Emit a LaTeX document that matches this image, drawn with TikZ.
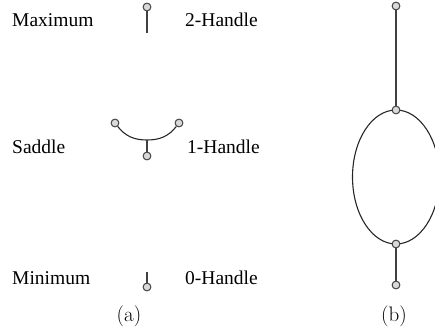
\documentclass[tikz,border=0pt]{standalone}
\usepackage{fontspec}
\newfontfamily\tnr{Liberation Serif}
\begin{document}
\begin{tikzpicture}[x=1pt,y=-1pt,
  endpt/.style={circle,draw=black!75,fill=black!15,line width=1pt,minimum size=7.8pt,inner sep=0pt},
  stem/.style={draw=black!75,line width=1.3pt},
  curve/.style={draw=black!85,line width=1.1pt},
  lbl/.style={anchor=base west,inner sep=0pt,font=\tnr\fontsize{19.5}{22}\selectfont},
  captext/.style={anchor=base,inner sep=0pt,font=\fontsize{21}{24}\selectfont}]
\useasboundingbox (0,0) rectangle (435,331);
\clip (0,0) rectangle (435,331);
% (b) ellipse first
\coordinate (ec) at (396,177);
\draw[curve] (ec) ellipse [x radius=43.5, y radius=67];
% (a) labels
\node[lbl] (tmax) at (12,27) {Maximum};
\node[lbl] (hmax) at (185,27) {2-Handle};
\node[lbl] (tsad) at (12,153) {Saddle};
\node[lbl] (hsad) at (187,153) {1-Handle};
\node[lbl] (tmin) at (12,284) {Minimum};
\node[lbl] (hmin) at (185,284) {0-Handle};
\node[captext] (capa) at (129,321) {(a)};
\node[captext] (capb) at (394,321) {(b)};
% maximum
\node[endpt] (m1) at (147,7) {};
\coordinate (m2) at (147,33);
\draw[stem] (m1) -- (m2);
% saddle
\node[endpt] (sl) at (115,123) {};
\node[endpt] (sr) at (179,123) {};
\coordinate (sb) at (147,140);
\node[endpt] (sd) at (147,156) {};
\draw[curve] (sl) to[out=-52,in=180] (sb) to[out=0,in=232] (sr);
\draw[stem] (sb) -- (sd);
% minimum
\coordinate (n1) at (147,272);
\node[endpt] (n2) at (147,287) {};
\draw[stem] (n1) -- (n2);
% (b)
\node[endpt] (bt) at (396,6) {};
\node[endpt] (bu) at (396,110) {};
\node[endpt] (bl) at (396,244) {};
\node[endpt] (bb) at (396,285) {};
\draw[stem] (bt) -- (bu);
\draw[stem] (bl) -- (bb);
\end{tikzpicture}
\end{document}
